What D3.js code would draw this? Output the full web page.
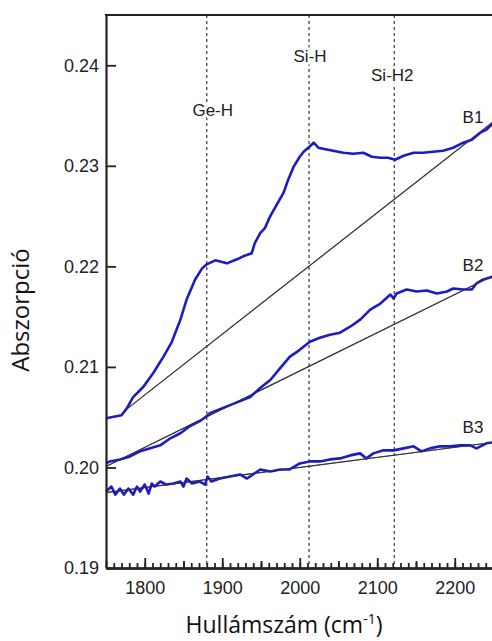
<!DOCTYPE html>
<html>
<head>
<meta charset="utf-8">
<script src="https://cdn.jsdelivr.net/npm/d3@7"></script>
<style>
  body { margin: 0; background: #fff; }
  svg { display: block; }
  .tick-label { font-family: "Liberation Sans", Arial, sans-serif; fill: #222; }
  .axis-title { font-family: "Open Sans", Lato, sans-serif; fill: #111; }
</style>
</head>
<body>
<div id="chart"></div>
<script>
////////////////////////////////////////////////////////////
//////////////////////// Data //////////////////////////////
////////////////////////////////////////////////////////////

// wavenumber (cm-1) / absorbance
var b1Wave = [1750, 1770, 1777, 1785, 1798, 1811, 1824, 1835, 1846, 1854, 1865, 1874, 1880, 1891, 1906, 1919, 1927, 1938, 1942, 1949, 1955, 1962, 1970, 1979, 1985, 1992, 2000, 2005, 2011, 2018, 2024, 2030, 2043, 2056, 2069, 2082, 2093, 2104, 2114, 2123, 2134, 2147, 2159, 2172, 2185, 2198, 2211, 2222, 2233, 2241, 2250];
var b1Abs  = [0.2049, 0.2052, 0.2059, 0.2070, 0.2080, 0.2094, 0.2110, 0.2125, 0.2147, 0.2167, 0.2187, 0.2198, 0.2202, 0.2206, 0.2203, 0.2207, 0.2210, 0.2213, 0.2223, 0.2233, 0.2238, 0.2250, 0.2261, 0.2273, 0.2286, 0.2299, 0.2309, 0.2314, 0.2318, 0.2323, 0.2318, 0.2317, 0.2315, 0.2313, 0.2312, 0.2313, 0.2309, 0.2308, 0.2308, 0.2306, 0.2310, 0.2313, 0.2313, 0.2314, 0.2315, 0.2318, 0.2323, 0.2326, 0.2333, 0.2336, 0.2343];

var b2Wave = [1750, 1755, 1768, 1781, 1794, 1807, 1820, 1833, 1846, 1858, 1871, 1880, 1884, 1897, 1910, 1923, 1936, 1949, 1962, 1975, 1987, 2000, 2013, 2026, 2039, 2052, 2065, 2078, 2091, 2104, 2117, 2121, 2125, 2138, 2151, 2164, 2177, 2190, 2198, 2211, 2222, 2228, 2237, 2250];
var b2Abs  = [0.2004, 0.2006, 0.2008, 0.2011, 0.2016, 0.2019, 0.2022, 0.2029, 0.2034, 0.2041, 0.2046, 0.2051, 0.2054, 0.2058, 0.2062, 0.2066, 0.2070, 0.2079, 0.2087, 0.2099, 0.2110, 0.2117, 0.2125, 0.2129, 0.2132, 0.2134, 0.2140, 0.2147, 0.2157, 0.2163, 0.2172, 0.2168, 0.2173, 0.2177, 0.2175, 0.2176, 0.2173, 0.2175, 0.2178, 0.2177, 0.2177, 0.2183, 0.2187, 0.2190];

var b3Wave = [1750, 1757, 1762, 1768, 1773, 1779, 1785, 1790, 1794, 1800, 1805, 1809, 1813, 1820, 1828, 1837, 1846, 1850, 1854, 1861, 1871, 1878, 1881, 1886, 1897, 1910, 1923, 1932, 1949, 1962, 1975, 1987, 2000, 2013, 2026, 2039, 2052, 2065, 2078, 2086, 2095, 2108, 2121, 2134, 2147, 2157, 2168, 2181, 2194, 2207, 2220, 2228, 2241, 2250];
var b3Abs  = [0.1976, 0.1981, 0.1973, 0.1979, 0.1973, 0.1979, 0.1973, 0.1981, 0.1976, 0.1983, 0.1974, 0.1984, 0.1981, 0.1986, 0.1983, 0.1984, 0.1986, 0.1981, 0.1989, 0.1984, 0.1986, 0.1983, 0.1991, 0.1986, 0.1989, 0.1991, 0.1993, 0.1989, 0.1998, 0.1996, 0.1998, 0.1998, 0.2004, 0.2006, 0.2006, 0.2008, 0.2009, 0.2012, 0.2014, 0.2009, 0.2014, 0.2017, 0.2017, 0.2019, 0.2021, 0.2016, 0.2019, 0.2021, 0.2021, 0.2022, 0.2022, 0.2019, 0.2024, 0.2025];

// straight baselines under each spectrum: [start, end]
var baseWave = [[1775, 2250], [1750, 2250], [1750, 2250]];
var baseAbs  = [[0.2057, 0.2344], [0.2001, 0.2191], [0.1975, 0.2025]];

var seriesNames = ["B1", "B2", "B3"];
var labelAbs = [0.2349, 0.2201, 0.2040];

// band positions
var bandNames = ["Ge-H", "Si-H", "Si-H2"];
var bandWave  = [1880, 2012, 2122];
var bandLabelAbs = [0.2355, 0.2409, 0.2390];

var yTicks = [0.19, 0.20, 0.21, 0.22, 0.23, 0.24];
var xTicks = [1800, 1900, 2000, 2100, 2200];

////////////////////////////////////////////////////////////
//////////////////////// Setup /////////////////////////////
////////////////////////////////////////////////////////////

var W = 492, H = 641;
var margin = {top: 15, left: 106, bottom: 73};
var plotRight = 493.5;

var svg = d3.select("#chart").append("svg")
  .attr("width", W)
  .attr("height", H);

var x = d3.scaleLinear().domain([1750, 2250]).range([margin.left, plotRight]);
var y = d3.scaleLinear().domain([0.19, 0.245]).range([H - margin.bottom, margin.top]);

var line = d3.line()
  .x(function(d) { return x(d[0]); })
  .y(function(d) { return y(d[1]); });

////////////////////////////////////////////////////////////
///////////////////// Band markers /////////////////////////
////////////////////////////////////////////////////////////

svg.selectAll(".band-line")
  .data(bandWave)
  .enter().append("line")
  .attr("class", "band-line")
  .attr("x1", function(d) { return x(d); })
  .attr("x2", function(d) { return x(d); })
  .attr("y1", y(0.245))
  .attr("y2", y(0.19))
  .style("stroke", "#555")
  .style("stroke-width", 1.4)
  .style("stroke-dasharray", "3,3");

svg.selectAll(".band-label")
  .data(bandNames)
  .enter().append("text")
  .attr("class", "tick-label band-label")
  .attr("x", function(d, i) { return x(bandWave[i]) + (i === 0 ? 6 : i === 2 ? -2 : 1); })
  .attr("y", function(d, i) { return y(bandLabelAbs[i]); })
  .attr("dy", "0.35em")
  .attr("text-anchor", "middle")
  .style("font-size", "17px")
  .style("paint-order", "stroke")
  .style("stroke", "#fff")
  .style("stroke-width", 5)
  .text(function(d) { return d; });

////////////////////////////////////////////////////////////
//////////////////////// Curves ////////////////////////////
////////////////////////////////////////////////////////////

var spectra = [b1Wave, b2Wave, b3Wave].map(function(w, i) {
  var a = [b1Abs, b2Abs, b3Abs][i];
  return w.map(function(v, j) { return [v, a[j]]; });
});

svg.selectAll(".baseline")
  .data(baseWave)
  .enter().append("path")
  .attr("class", "baseline")
  .attr("d", function(d, i) { return line([[d[0], baseAbs[i][0]], [d[1], baseAbs[i][1]]]); })
  .style("fill", "none")
  .style("stroke", "#333")
  .style("stroke-width", 1.2);

svg.selectAll(".spectrum")
  .data(spectra)
  .enter().append("path")
  .attr("class", "spectrum")
  .attr("d", line)
  .style("fill", "none")
  .style("stroke", "#1c1cc4")
  .style("stroke-width", 2.6)
  .style("stroke-linejoin", "round");

// draw baselines again thin on top where they overlap
svg.selectAll(".baseline-top")
  .data(baseWave)
  .enter().append("path")
  .attr("d", function(d, i) { return line([[d[0], baseAbs[i][0]], [d[1], baseAbs[i][1]]]); })
  .style("fill", "none")
  .style("stroke", "#333")
  .style("stroke-opacity", 0.6)
  .style("stroke-width", 1);

svg.selectAll(".series-label")
  .data(seriesNames)
  .enter().append("text")
  .attr("class", "tick-label series-label")
  .attr("x", 473)
  .attr("y", function(d, i) { return y(labelAbs[i]); })
  .attr("dy", "0.35em")
  .attr("text-anchor", "middle")
  .style("font-size", "17px")
  .text(function(d) { return d; });

////////////////////////////////////////////////////////////
///////////////////////// Axes /////////////////////////////
////////////////////////////////////////////////////////////

var yAxis = svg.append("g")
  .attr("transform", "translate(" + margin.left + ",0)")
  .call(d3.axisLeft(y).tickValues(yTicks).tickSizeInner(-10).tickSizeOuter(0).tickPadding(7)
    .tickFormat(d3.format(".2f")));

var xMinor = svg.append("g")
  .attr("transform", "translate(0," + y(0.19) + ")")
  .call(d3.axisBottom(x).tickValues(d3.range(1760, 2250, 10)).tickSizeInner(-5).tickSizeOuter(0).tickFormat(""));

var xMid = svg.append("g")
  .attr("transform", "translate(0," + y(0.19) + ")")
  .call(d3.axisBottom(x).tickValues([1750, 1850, 1950, 2050, 2150]).tickSizeInner(-7).tickSizeOuter(0).tickFormat(""));

var xAxis = svg.append("g")
  .attr("transform", "translate(0," + y(0.19) + ")")
  .call(d3.axisBottom(x).tickValues(xTicks).tickSizeInner(-10).tickSizeOuter(0).tickPadding(13)
    .tickFormat(d3.format("d")));

[yAxis, xMinor, xMid, xAxis].forEach(function(g) {
  g.selectAll("path.domain").style("stroke", "#222").style("stroke-width", 2.2);
  g.selectAll(".tick line").style("stroke", "#222").style("stroke-width", 1.8);
  g.selectAll(".tick text")
    .attr("class", "tick-label")
    .style("font-family", "'Liberation Sans', Arial, sans-serif")
    .style("font-size", "18px")
    .style("fill", "#222");
});

// top frame line
svg.append("line")
  .attr("x1", margin.left - 1)
  .attr("x2", W)
  .attr("y1", y(0.245))
  .attr("y2", y(0.245))
  .style("stroke", "#222")
  .style("stroke-width", 2.2);

// axis titles
svg.append("text")
  .attr("class", "axis-title")
  .attr("transform", "translate(29,310) rotate(-90)")
  .attr("text-anchor", "middle")
  .style("font-size", "24px")
  .text("Abszorpció");

var xt = svg.append("text")
  .attr("class", "axis-title")
  .attr("x", 284)
  .attr("y", 633)
  .attr("text-anchor", "middle")
  .style("font-size", "23px");
xt.append("tspan").text("Hullámszám (cm");
xt.append("tspan").attr("dy", -9).style("font-size", "14px").text("-1");
xt.append("tspan").attr("dy", 9).text(")");
</script>
</body>
</html>
